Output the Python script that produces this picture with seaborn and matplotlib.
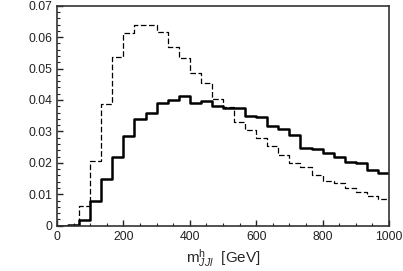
import numpy as np
import pandas as pd
import matplotlib
matplotlib.use('Agg')
import matplotlib.pyplot as plt
from matplotlib.ticker import MultipleLocator, FuncFormatter
import seaborn as sns

# 30 bins of 33.3 GeV between 0 and 1000
bin_edges = list(np.linspace(0, 1000, 31))
bin_centers = [0.5 * (a + b) for a, b in zip(bin_edges[:-1], bin_edges[1:])]

# solid histogram
signal = [0.0, 0.0002, 0.0017, 0.0077, 0.0148, 0.0219, 0.0285, 0.0341, 0.0360, 0.0391,
          0.0400, 0.0412, 0.0390, 0.0396, 0.0380, 0.0376, 0.0373, 0.0350, 0.0345, 0.0317,
          0.0308, 0.0287, 0.0247, 0.0244, 0.0230, 0.0219, 0.0203, 0.0201, 0.0177, 0.0167]

# dashed histogram
background = [0.0, 0.0003, 0.0062, 0.0207, 0.0388, 0.0537, 0.0614, 0.0640, 0.0640, 0.0616,
              0.0567, 0.0533, 0.0485, 0.0453, 0.0403, 0.0377, 0.0331, 0.0304, 0.0278, 0.0252,
              0.0226, 0.0199, 0.0188, 0.0161, 0.0142, 0.0135, 0.0121, 0.0108, 0.0095, 0.0084]

df = pd.DataFrame({'m': bin_centers, 'signal': signal, 'background': background})

sns.set_style('ticks')
plt.rcParams['font.family'] = ['Liberation Sans', 'DejaVu Sans']
plt.rcParams['mathtext.fontset'] = 'custom'
plt.rcParams['mathtext.rm'] = 'Liberation Sans'
plt.rcParams['mathtext.it'] = 'Liberation Sans:italic'

fig = plt.figure(figsize=(4.03, 2.71), dpi=100)
ax = fig.add_axes([0.1414, 0.1672, 0.8239, 0.8118])

# weights go through histplot so the bars come from the library's own binning
sns.histplot(data=df, x='m', weights='background', bins=bin_edges, element='step', fill=False,
             color='black', linewidth=0.9, linestyle=(0, (4.5, 2)), ax=ax)
sns.histplot(data=df, x='m', weights='signal', bins=bin_edges, element='step', fill=False,
             color='black', linewidth=1.8, ax=ax)

ax.set_xlim(0, 1000)
ax.set_ylim(0, 0.07)
ax.xaxis.set_major_locator(MultipleLocator(200))
ax.xaxis.set_minor_locator(MultipleLocator(50))
ax.yaxis.set_major_locator(MultipleLocator(0.01))
ax.yaxis.set_minor_locator(MultipleLocator(0.002))
ax.yaxis.set_major_formatter(FuncFormatter(lambda v, p: '0' if abs(v) < 1e-9 else f'{v:.2f}'))

ax.tick_params(which='both', direction='in', top=False, right=False, labelsize=8.8, colors='#222222')
ax.tick_params(which='major', length=4, width=1)
ax.tick_params(which='minor', length=2, width=0.8)
for s in ax.spines.values():
    s.set_linewidth(1.2)
    s.set_color('#333333')

ax.set_xlabel(r'$\mathregular{m}^{\mathregular{h}}_{JJl}$  [GeV]', fontsize=11, labelpad=3)
ax.set_ylabel('')

fig.savefig('out.png', dpi=100)
